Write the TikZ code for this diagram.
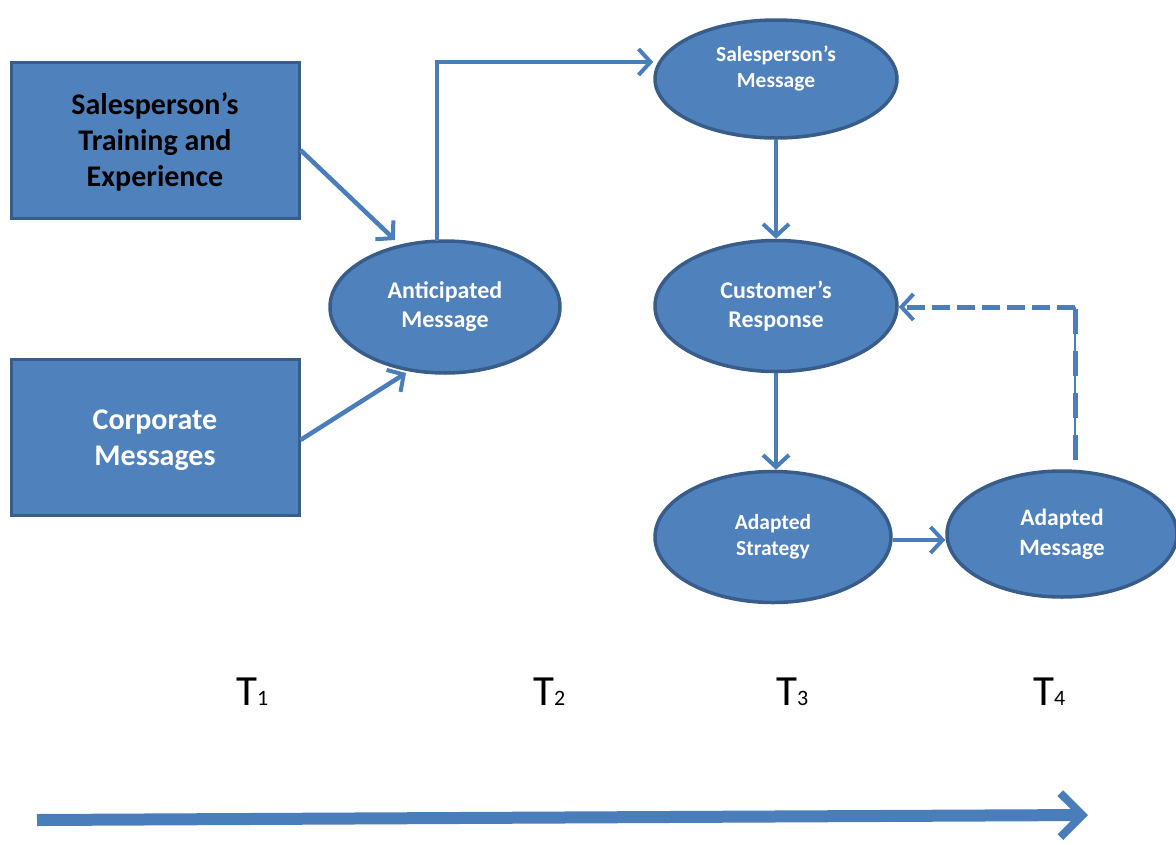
\documentclass[tikz,border=0pt]{standalone}
\usepackage{fontspec}
\setmainfont{Carlito}
\usetikzlibrary{arrows.meta,shapes.geometric}
\definecolor{boxfill}{HTML}{4F81BD}
\definecolor{boxline}{HTML}{385D8A}
\definecolor{link}{HTML}{4A7EBB}
\tikzset{
  block/.style={rectangle, fill=boxfill, draw=boxline, line width=3pt,
    minimum width=288pt, minimum height=156pt, align=center,
    font=\bfseries\fontsize{30}{36}\selectfont},
  oval/.style={ellipse, fill=boxfill, draw=boxline, line width=3.5pt,
    inner sep=0pt, align=center, text=white},
  flow/.style={draw=link, line width=4.5pt, -{Straight Barb[length=12pt,width=26pt,line width=4pt]}},
  tick/.style={font=\fontsize{43}{43}\selectfont, inner sep=0pt, anchor=base west}
}
\begin{document}
\begin{tikzpicture}[x=1pt,y=-1pt]
\useasboundingbox (0,0) rectangle (1176,844);

% input boxes
\node[block, text=black] (train) at (155,140) {\begin{tabular}{@{}c@{}}\noalign{\vskip6pt}Salesperson’s\\Training and\\Experience\end{tabular}};
\node[block, text=white] (corp) at (155,437) {\begin{tabular}{@{}c@{}}\noalign{\vskip6pt}Corporate\\Messages\end{tabular}};

% message ovals
\node[oval, minimum width=230pt, minimum height=132pt, font=\bfseries\fontsize{24}{29}\selectfont] (antic) at (445,307) {Anticipated\\Message};
\node[oval, minimum width=242pt, minimum height=118pt, font=\bfseries\fontsize{21.5}{26}\selectfont] (smsg) at (776,79)
  {\begin{tabular}{@{}c@{}}Salesperson’s\\Message\\[20pt]\end{tabular}};
\node[oval, minimum width=242pt, minimum height=131pt, font=\bfseries\fontsize{24}{29}\selectfont] (resp) at (776,306) {Customer’s\\Response};
\node[oval, minimum width=236pt, minimum height=131pt, font=\bfseries\fontsize{21.5}{26}\selectfont] (strat) at (773,537) {Adapted\\Strategy};
\node[oval, minimum width=230pt, minimum height=126pt, font=\bfseries\fontsize{23.5}{30}\selectfont] (amsg) at (1062,534) {Adapted\\Message};

% connectors
\coordinate (t1) at (395,240);
\coordinate (t2) at (406,373);
\draw[flow] (train.east |- 0,150) -- (t1);
\draw[flow] (corp.east |- 0,440) -- (t2);
\draw[flow] (437,241) |- (smsg.west |- 0,62);
\draw[flow] (smsg.south) -- (resp.north);
\draw[flow] (resp.south) -- (resp.south |- strat.north);
\draw[flow] (strat.east |- 0,540) -- (amsg.west |- 0,540);

% feedback loop
\coordinate (fb) at (1075,460);
\coordinate (fc) at (1075,307);
\draw[draw=link, line width=1.5pt] (fb) -- (fc);
\draw[draw=link, line width=5pt, dash pattern=on 25pt off 17pt] (fb) -- (fc);
\draw[draw=link, line width=5pt, dash pattern=on 18pt off 7pt,
  -{Straight Barb[length=12pt,width=26pt,line width=4pt]}] (fc) -- (resp.east |- fc);

% time labels
\node[tick] (T1) at (236,705) {T\fontsize{22}{22}\selectfont 1};
\node[tick] (T2) at (533,705) {T\fontsize{22}{22}\selectfont 2};
\node[tick] (T3) at (776,705) {T\fontsize{22}{22}\selectfont 3};
\node[tick] (T4) at (1033,705) {T\fontsize{22}{22}\selectfont 4};

% time axis
\coordinate (a0) at (37,820);
\coordinate (a1) at (1088,815);
\draw[draw=link, line width=12pt, -{Straight Barb[length=22pt,width=44pt,line width=8pt]}] (a0) -- (a1);
\end{tikzpicture}
\end{document}
